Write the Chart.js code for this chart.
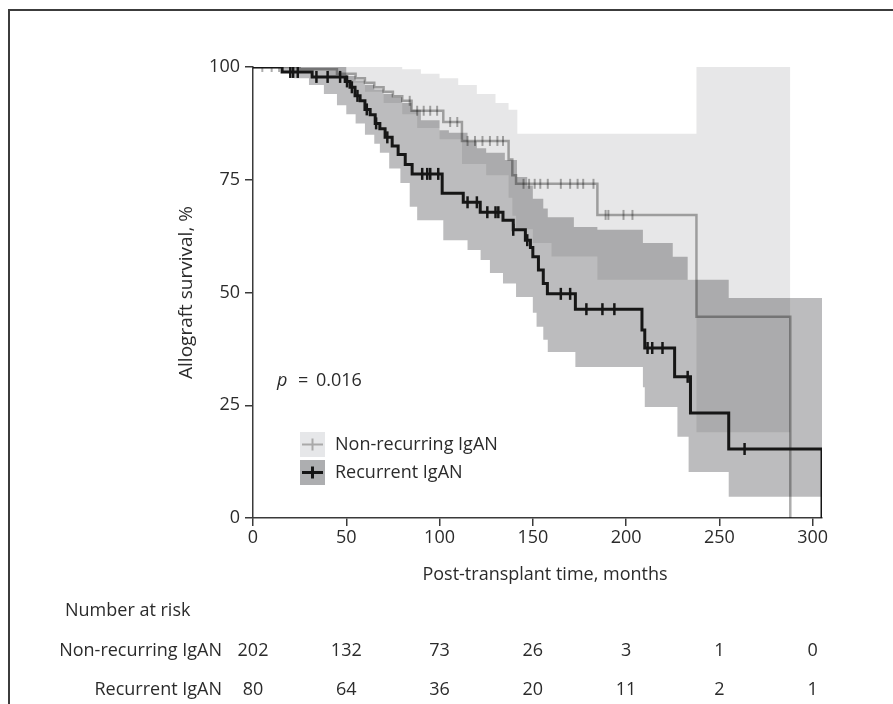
<!DOCTYPE html>
<html lang="en">
  <head>
    <meta charset="UTF-8" />
    <meta name="viewport" content="width=device-width, initial-scale=1.0" />
    <title>Allograft survival</title>
    <script src="https://cdn.jsdelivr.net/npm/chart.js"></script>
    <style>
      html,
      body {
        margin: 0;
        padding: 0;
        background: #fff;
      }
      body {
        width: 893px;
        height: 704px;
        position: relative;
        overflow: hidden;
      }
      .frame {
        position: absolute;
        left: 8px;
        top: 9px;
        width: 900px;
        height: 720px;
        border-left: 2px solid #3c3c3c;
        border-top: 2px solid #3c3c3c;
      }
      #kmChart {
        position: absolute;
        left: 0;
        top: 0;
      }
    </style>
  </head>
  <body>
    <div class="frame"></div>
    <canvas id="kmChart" width="893" height="704"></canvas>

    <script>
      // Kaplan-Meier curves (time in months, survival in %)
      const recTime = [0, 15.6, 31.7, 49.4, 52, 54.7, 57.4, 60, 62.8, 65.5, 68, 70.8, 74.6, 77.8, 81.6, 85.3, 101.4, 112.7, 121.8, 134, 139.5, 146, 148.7, 150, 153, 155.6, 157.8, 172.8, 208.5, 210, 226, 234.5, 255, 305];
      const recSurv = [100, 98.9, 97.8, 96.8, 95.5, 93.6, 92.5, 90.6, 89.4, 87.5, 86.3, 84.4, 82.5, 80.6, 78.4, 76.3, 72, 70, 67.8, 66, 63.9, 61.6, 60, 57.9, 55, 52, 49.7, 46.3, 41.7, 37.7, 31.3, 23.3, 15.3, 0];
      const recCensor = [20, 21.5, 24, 34, 40, 46.7, 50.4, 53, 56, 61, 66, 72, 90.7, 93.4, 95, 99.3, 115, 120, 125.6, 130, 131.5, 139.5, 147, 165, 170, 178.7, 187.3, 193.7, 211.5, 214, 219.5, 233, 263.5];

      const nonTime = [0, 25, 45, 55, 60, 65, 70, 75, 80, 85, 102, 112, 137, 139, 141, 184.6, 237.7, 288];
      const nonSurv = [100, 99.5, 98.5, 97.5, 96.5, 95.5, 94.5, 93.5, 92.5, 90.3, 87.8, 83.6, 79.5, 76, 74.1, 67.2, 44.6, 0];
      const nonCensor = [5, 10, 14, 84, 88, 91.5, 95, 98.7, 105.7, 109.5, 115, 119, 123, 127, 131, 134, 145, 148, 151, 154, 158, 165, 170, 174, 177, 182.5, 189, 190.5, 198.6, 203.4];

      // confidence bands
      const nonUpperTime = [0, 70, 80, 90, 100, 110, 120, 130, 137, 141.7, 237.7, 288];
      const nonUpper = [100, 100, 99.5, 98.5, 97.5, 96, 94, 92, 90.5, 85.2, 100, 100];
      const nonLowerTime = [0, 20, 40, 50, 60, 70, 80, 88, 100, 112, 125, 137, 139, 141, 150, 160, 184.6, 237.7, 288];
      const nonLower = [100, 99.3, 98, 96.5, 94.5, 92, 89.5, 86.5, 84, 78.5, 76, 71, 67, 64, 61, 58, 52.8, 19, 19];

      const recUpperTime = [0, 45, 50, 55, 60, 65, 70, 75, 80, 85, 90, 100, 105, 115, 120, 125, 135, 141.5, 147, 150, 155.6, 158, 172, 184.6, 209, 225, 233, 255, 305];
      const recUpper = [100, 100, 98, 97, 96, 95, 94, 93.3, 92, 90.5, 88.2, 86, 85.4, 83.5, 82, 81, 79.4, 75.6, 73.7, 70.8, 68.6, 66.7, 64.5, 63.9, 61, 57.9, 52.8, 48.8, 48.8];
      const recLowerTime = [0, 15, 22, 30, 38, 45, 50, 55, 60, 65, 68, 73, 79, 84, 88, 102, 115, 122, 127, 134, 141, 150, 152, 155.6, 158, 172.8, 209, 210, 227.5, 233.5, 255, 305];
      const recLower = [100, 99, 97.5, 96, 94, 91.5, 89.5, 87.5, 85, 83, 81, 77.5, 74.3, 69, 66, 61.6, 59.4, 57.2, 54.3, 52, 49, 45.5, 42.4, 39.5, 36.8, 33.5, 29, 24.6, 18, 10.2, 4.7, 4.7];

      // number at risk
      const riskTimes = [0, 50, 100, 150, 200, 250, 300];
      const riskNon = [202, 132, 73, 26, 3, 1, 0];
      const riskRec = [80, 64, 36, 20, 11, 2, 1];

      const fontFamily = '"Open Sans", "DejaVu Sans", sans-serif';
      const textColor = "#2b2b2b";
      const axisColor = "#3a3a3a";
      const nonLineColor = "rgba(0, 0, 0, 0.32)";
      const recLineColor = "#161616";

      // value of a step function at time t
      function stepAt(times, values, t) {
        let v = values[0];
        for (let i = 0; i < times.length; i++) {
          if (times[i] <= t) v = values[i];
        }
        return v;
      }

      function toPoints(times, values) {
        return times.map((t, i) => ({ x: t, y: values[i] }));
      }

      // put both band edges on the same x values so the fill lines up
      function bandPoints(tA, vA, tB, vB) {
        const end = Math.min(tA[tA.length - 1], tB[tB.length - 1]);
        const xs = [...new Set([...tA, ...tB])]
          .filter((t) => t <= end)
          .sort((a, b) => a - b);
        return [
          xs.map((t) => ({ x: t, y: stepAt(tA, vA, t) })),
          xs.map((t) => ({ x: t, y: stepAt(tB, vB, t) })),
        ];
      }

      const [nonUpperPts, nonLowerPts] = bandPoints(nonUpperTime, nonUpper, nonLowerTime, nonLower);
      const [recUpperPts, recLowerPts] = bandPoints(recUpperTime, recUpper, recLowerTime, recLower);

      function bandEdge(points, fill, color) {
        return {
          type: "line",
          data: points,
          stepped: true,
          borderWidth: 0,
          borderColor: "transparent",
          pointRadius: 0,
          fill: fill,
          backgroundColor: color,
          order: 10,
        };
      }

      const datasets = [
        bandEdge(nonUpperPts, "+1", "rgba(0, 0, 8, 0.094)"),
        bandEdge(nonLowerPts, false, "transparent"),
        bandEdge(recUpperPts, "+1", "rgba(0, 0, 8, 0.262)"),
        bandEdge(recLowerPts, false, "transparent"),
        {
          type: "line",
          data: toPoints(nonTime, nonSurv),
          stepped: true,
          borderColor: nonLineColor,
          borderWidth: 2.5,
          pointRadius: 0,
          fill: false,
          order: 5,
        },
        {
          type: "scatter",
          data: nonCensor.map((t) => ({ x: t, y: stepAt(nonTime, nonSurv, t) })),
          pointStyle: "line",
          rotation: 90,
          pointRadius: 5,
          borderColor: nonLineColor,
          pointBorderWidth: 2,
          order: 4,
        },
        {
          type: "line",
          data: toPoints(recTime, recSurv),
          stepped: true,
          borderColor: recLineColor,
          borderWidth: 3,
          pointRadius: 0,
          fill: false,
          order: 1,
        },
        {
          type: "scatter",
          data: recCensor.map((t) => ({ x: t, y: stepAt(recTime, recSurv, t) })),
          pointStyle: "line",
          rotation: 90,
          pointRadius: 6,
          borderColor: recLineColor,
          pointBorderWidth: 2.5,
          order: 0,
        },
      ];

      // titles, p value, legend and risk table
      const extras = {
        id: "extras",
        afterDraw(chart) {
          const { ctx, scales } = chart;
          const x = scales.x;
          const y = scales.y;
          ctx.save();
          ctx.fillStyle = textColor;
          ctx.font = `18px ${fontFamily}`;
          ctx.textBaseline = "middle";

          // axis titles
          ctx.textAlign = "center";
          ctx.fillText("Post-transplant time, months", 545, 575);
          ctx.save();
          ctx.translate(187, (y.top + y.bottom) / 2);
          ctx.rotate(-Math.PI / 2);
          ctx.font = `19px ${fontFamily}`;
          ctx.fillText("Allograft survival, %", 0, 0);
          ctx.restore();

          // p value
          ctx.textAlign = "left";
          ctx.font = `italic 18px ${fontFamily}`;
          ctx.fillText("p", 277, 381);
          ctx.font = `18px ${fontFamily}`;
          ctx.fillText("=", 298, 381);
          ctx.fillText("0.016", 316, 381);

          // legend
          const items = [
            { label: "Non-recurring IgAN", box: "#e6e7e9", line: "#a9a9a9", lw: 2, top: 432 },
            { label: "Recurrent IgAN", box: "#adaeb0", line: recLineColor, lw: 3, top: 460 },
          ];
          items.forEach((it) => {
            const mid = it.top + 12.5;
            ctx.fillStyle = it.box;
            ctx.fillRect(300, it.top, 25, 25);
            ctx.strokeStyle = it.line;
            ctx.lineWidth = it.lw;
            ctx.beginPath();
            ctx.moveTo(302, mid);
            ctx.lineTo(323, mid);
            ctx.moveTo(312.5, mid - 6);
            ctx.lineTo(312.5, mid + 6);
            ctx.stroke();
            ctx.fillStyle = textColor;
            ctx.fillText(it.label, 335, mid);
          });

          // number at risk
          ctx.fillText("Number at risk", 65, 611);
          ctx.textAlign = "right";
          ctx.fillText("Non-recurring IgAN", 222, 651);
          ctx.fillText("Recurrent IgAN", 222, 690);
          ctx.textAlign = "center";
          riskTimes.forEach((t, i) => {
            const px = x.getPixelForValue(t);
            ctx.fillText(String(riskNon[i]), px, 651);
            ctx.fillText(String(riskRec[i]), px, 690);
          });
          ctx.restore();
        },
      };

      Chart.defaults.font.family = fontFamily;
      Chart.defaults.font.size = 18;
      Chart.defaults.color = textColor;

      new Chart(document.getElementById("kmChart").getContext("2d"), {
        type: "line",
        data: { datasets: datasets },
        options: {
          responsive: false,
          animation: false,
          layout: { padding: { top: 67, right: 71, left: 0, bottom: 0 } },
          plugins: {
            legend: { display: false },
            tooltip: { enabled: false },
          },
          scales: {
            x: {
              type: "linear",
              min: 0,
              max: 305,
              afterFit: (s) => {
                s.height = 186;
              },
              afterBuildTicks: (s) => {
                s.ticks = riskTimes.map((v) => ({ value: v }));
              },
              ticks: { maxRotation: 0, padding: 1 },
              grid: {
                drawOnChartArea: false,
                tickLength: 8,
                color: axisColor,
                lineWidth: 1.5,
              },
              border: { display: true, color: axisColor, width: 1.5 },
            },
            y: {
              min: 0,
              max: 100,
              afterFit: (s) => {
                s.width = 253;
              },
              ticks: { stepSize: 25, padding: 5 },
              grid: {
                drawOnChartArea: false,
                tickLength: 8,
                color: axisColor,
                lineWidth: 1.5,
              },
              border: { display: true, color: axisColor, width: 1.5 },
            },
          },
        },
        plugins: [extras],
      });
    </script>
  </body>
</html>
